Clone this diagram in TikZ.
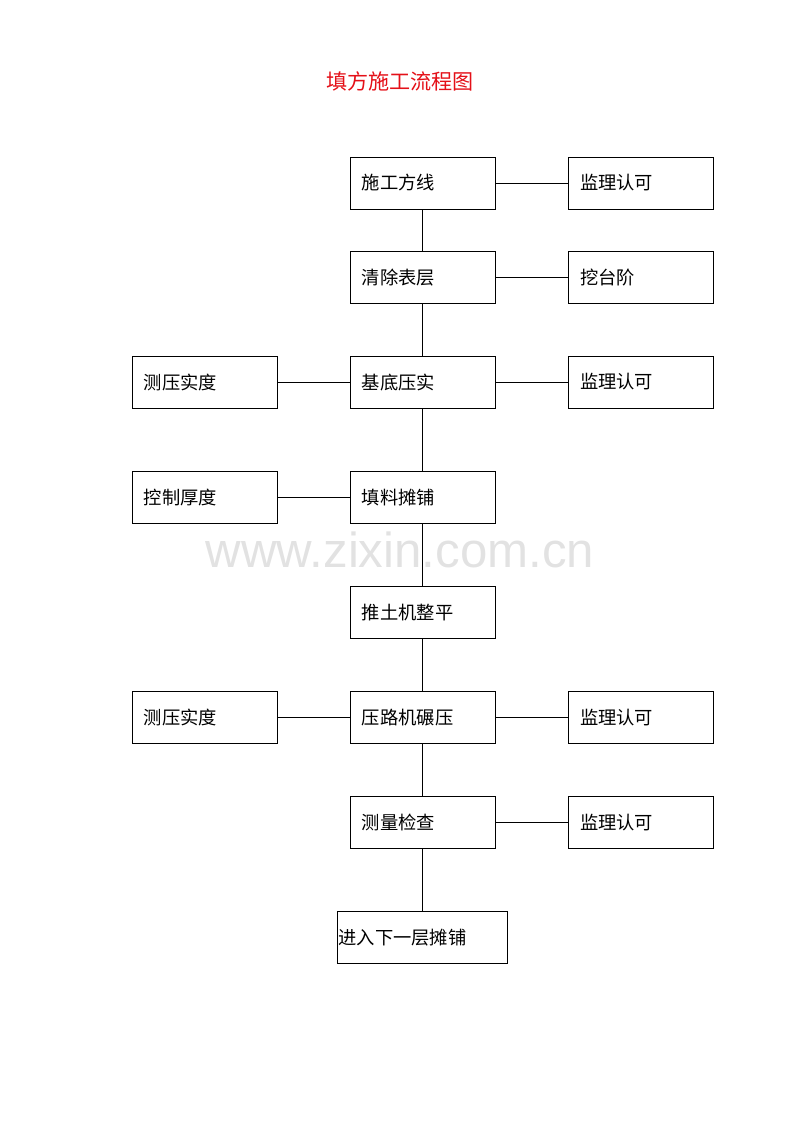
\documentclass[tikz,border=0pt]{standalone}
\usepackage{fontspec}
\setmainfont{Noto Sans CJK SC}
\newfontfamily\markfont{Liberation Sans}
\usetikzlibrary{positioning}
\definecolor{titlered}{RGB}{228,16,24}
\definecolor{markgray}{RGB}{226,226,226}

\begin{document}
\begin{tikzpicture}[x=0.025cm, y=-0.025cm, node distance=5.45cm, line width=0.6pt,
		main node/.style={rectangle,draw,minimum height=1.3cm,text width=3.025cm,
			inner xsep=0.3cm,inner ysep=0pt,align=left,font=\fontsize{13}{15}\selectfont},
		wide node/.style={main node,text width=4.2cm,inner xsep=0.025cm}]
	\useasboundingbox (0,0) rectangle (800,1132);
	
	\node[text=markgray,font=\markfont\fontsize{35}{40}\selectfont] (mark) at (400,550) {www.zixin.com.cn};
	\node[text=titlered,font=\fontsize{15}{18}\selectfont] (title) at (400,81) {填方施工流程图};
	
	% main column
	\node[main node] (1) at (422.5,183) {施工方线};
	\node[main node] (2) [below of=1, node distance=2.3625cm] {清除表层};
	\node[main node] (3) [below of=2, node distance=2.6125cm] {基底压实};
	\node[main node] (4) [below of=3, node distance=2.875cm] {填料摊铺};
	\node[main node] (5) [below of=4, node distance=2.875cm] {推土机整平};
	\node[main node] (6) [below of=5, node distance=2.625cm] {压路机碾压};
	\node[main node] (7) [below of=6, node distance=2.625cm] {测量检查};
	\node[wide node] (8) [below of=7, node distance=2.875cm] {进入下一层摊铺};
	
	% side boxes
	\node[main node] (1r) [right of=1] {监理认可};
	\node[main node] (2r) [right of=2] {挖台阶};
	\node[main node] (3r) [right of=3] {监理认可};
	\node[main node] (3l) [left of=3] {测压实度};
	\node[main node] (4l) [left of=4] {控制厚度};
	\node[main node] (6r) [right of=6] {监理认可};
	\node[main node] (6l) [left of=6] {测压实度};
	\node[main node] (7r) [right of=7] {监理认可};
	
	\path
	(1) edge (2)
	edge (1r)
	(2) edge (3)
	edge (2r)
	(3) edge (4)
	edge (3r)
	edge (3l)
	(4) edge (5)
	edge (4l)
	(5) edge (6)
	(6) edge (7)
	edge (6r)
	edge (6l)
	(7) edge (8)
	edge (7r);
\end{tikzpicture}
\end{document}
